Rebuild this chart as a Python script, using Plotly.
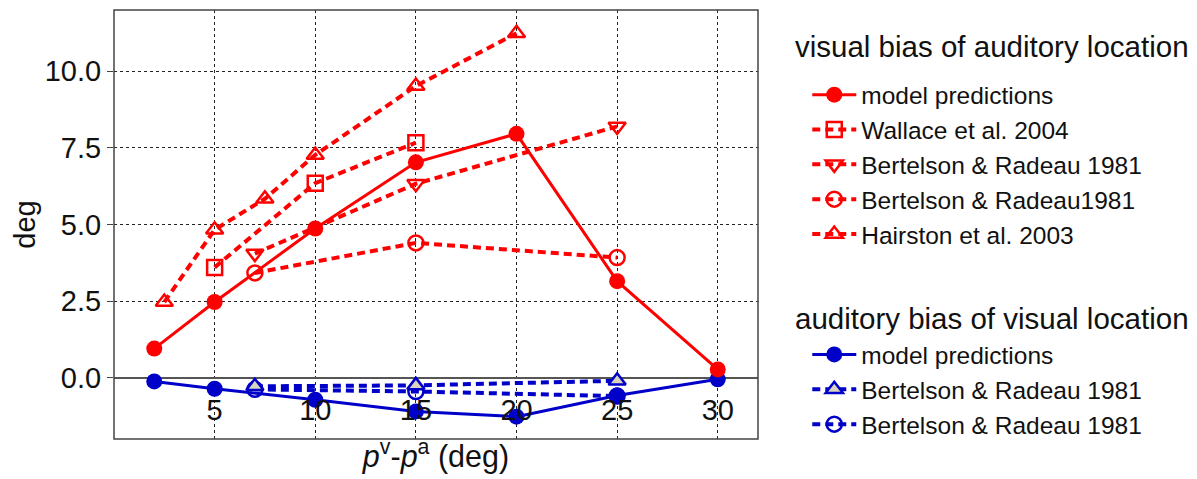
import plotly.graph_objects as go

# disparity between visual and auditory stimulus positions (deg)
x_model = [2, 5, 10, 15, 20, 25, 30]
visual_bias_model = [0.95, 2.47, 4.87, 7.03, 7.96, 3.15, 0.27]
auditory_bias_model = [-0.12, -0.36, -0.72, -1.10, -1.27, -0.58, -0.05]

x_wallace = [5, 10, 15]
y_wallace = [3.60, 6.35, 7.67]

x_bertelson = [7, 15, 25]
y_bertelson_a = [4.05, 6.33, 8.20]
y_bertelson_b = [3.42, 4.40, 3.92]

x_hairston = [2.5, 5, 7.5, 10, 15, 20]
y_hairston = [2.47, 4.83, 5.84, 7.27, 9.52, 11.24]

y_bertelson_vis_a = [-0.28, -0.25, -0.10]
y_bertelson_vis_b = [-0.38, -0.45, -0.60]

x_ticks = [5, 10, 15, 20, 25, 30]
y_ticks = [0, 2.5, 5, 7.5, 10]
y_tick_text = ["0.0", "2.5", "5.0", "7.5", "10.0"]

group_titles = ["visual bias of auditory location", "auditory bias of visual location"]

RED = "#ff0000"
BLUE = "#0000c8"
FONT = "Liberation Sans, Arial, sans-serif"
DASH = "8px,5px"

fig = go.Figure()


def dashed(x, y, name, color, symbol, fill, legend, rank):
    fig.add_trace(go.Scatter(
        x=x, y=y, name=name, mode="lines+markers",
        line=dict(color=color, width=4, dash=DASH),
        marker=dict(symbol=symbol, size=15, color=fill,
                    line=dict(color=color, width=2.5)),
        legend=legend, legendrank=rank,
    ))


# experimental data (dashed)
dashed(x_wallace, y_wallace, "Wallace et al. 2004", RED, "square-open", RED, "legend", 2)
dashed(x_bertelson, y_bertelson_a, "Bertelson & Radeau 1981", RED, "triangle-down-open", RED, "legend", 3)
dashed(x_bertelson, y_bertelson_b, "Bertelson & Radeau1981", RED, "circle-open", RED, "legend", 4)
dashed(x_hairston, y_hairston, "Hairston et al. 2003", RED, "triangle-up-open", RED, "legend", 5)
dashed(x_bertelson, y_bertelson_vis_b, "Bertelson & Radeau 1981 ", BLUE, "circle-open", BLUE, "legend2", 3)
fig.add_trace(go.Scatter(
    x=x_bertelson, y=y_bertelson_vis_a, name="Bertelson & Radeau 1981",
    mode="lines+markers",
    line=dict(color=BLUE, width=4, dash=DASH),
    marker=dict(symbol="triangle-up", size=15, color="#d9d3bf",
                line=dict(color=BLUE, width=2.5)),
    legend="legend2", legendrank=2,
))

# model predictions (solid)
fig.add_trace(go.Scatter(
    x=x_model, y=auditory_bias_model, name="model predictions",
    mode="lines+markers", line=dict(color=BLUE, width=3),
    marker=dict(symbol="circle", size=16, color=BLUE),
    legend="legend2", legendrank=1,
))
fig.add_trace(go.Scatter(
    x=x_model, y=visual_bias_model, name="model predictions",
    mode="lines+markers", line=dict(color=RED, width=3),
    marker=dict(symbol="circle", size=16, color=RED),
    legend="legend", legendrank=1,
))

legend_common = dict(
    font=dict(family=FONT, size=24.5, color="#111"),
    bgcolor="rgba(0,0,0,0)", itemwidth=44,
    xanchor="left", yanchor="top", traceorder="normal",
)

# group headings above each legend block
title_annotations = [
    dict(text=group_titles[0], xref="paper", yref="paper", x=1.055, y=(439 - 47) / 429,
         xanchor="left", yanchor="middle", showarrow=False,
         font=dict(family=FONT, size=29.5, color="#111")),
    dict(text=group_titles[1], xref="paper", yref="paper", x=1.055, y=(439 - 318) / 429,
         xanchor="left", yanchor="middle", showarrow=False,
         font=dict(family=FONT, size=29.5, color="#111")),
]

fig.update_layout(
    width=1197, height=479,
    margin=dict(l=114, r=439, t=10, b=40),
    paper_bgcolor="white", plot_bgcolor="white",
    font=dict(family=FONT, color="#111"),
    showlegend=True,
    legend=dict(x=1.0765, y=0.855, **legend_common),
    legend2=dict(x=1.0765, y=0.2494, **legend_common),
    annotations=title_annotations,
    xaxis=dict(
        range=[0, 32], tickvals=x_ticks, showticklabels=False,
        showgrid=True, gridcolor="#222", griddash="dot", gridwidth=1,
        zeroline=False, showline=False, ticks="",
        title=dict(text="<i>p</i><sup>v</sup>-<i>p</i><sup>a</sup> (deg)",
                   font=dict(family=FONT, size=30.5), standoff=6),
        automargin=False,
    ),
    xaxis2=dict(
        range=[0, 32], tickvals=x_ticks, overlaying="x", matches="x",
        anchor="free", position=0.115, side="bottom",
        showgrid=False, zeroline=False, showline=False, ticks="",
        tickfont=dict(family=FONT, size=29, color="#111"),
        automargin=False,
    ),
    yaxis=dict(
        range=[-2, 12], tickvals=y_ticks, ticktext=y_tick_text,
        showgrid=True, gridcolor="#222", griddash="dot", gridwidth=1,
        zeroline=True, zerolinecolor="#555", zerolinewidth=1.5,
        showline=False, ticks="outside", ticklen=6, tickcolor="#444",
        tickfont=dict(family=FONT, size=29, color="#111"),
        title=dict(text="deg", font=dict(family=FONT, size=29), standoff=0),
        automargin=False,
    ),
    shapes=[dict(type="rect", xref="paper", yref="paper", x0=0, y0=0, x1=1, y1=1,
                 line=dict(color="#444", width=1.5), layer="above")],
)

# invisible trace so the overlay axis carrying the tick labels is drawn
fig.add_trace(go.Scatter(x=[None], y=[None], xaxis="x2", showlegend=False, hoverinfo="skip"))

fig.write_html("out.html")
